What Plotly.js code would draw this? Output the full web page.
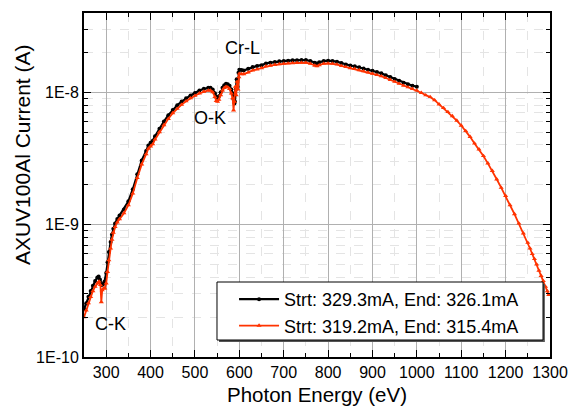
<!DOCTYPE html>
<html>
<head>
<meta charset="utf-8">
<script src="https://cdn.plot.ly/plotly-3.0.1.min.js"></script>
<style>html,body{margin:0;padding:0;background:#fff;}#chart{width:572px;height:408px;}</style>
</head>
<body>
<div id="chart"></div>
<script>
// Series 1 (black): Strt 329.3mA, End 326.1mA
var energyA = [250,255,260,265,270,275,280,283,286,288,290,293,296,300,303,306,310,313,316,320,325,330,340,350,360,370,380,390,395,400,405,410,420,430,440,450,460,470,480,490,500,510,520,530,535,540,545,548,551,554,558,562,566,570,574,578,582,585,587,589,590,592,594,596,598,600,605,610,620,630,640,650,660,670,680,690,700,710,720,730,740,750,760,770,775,780,790,800,810,820,830,840,850,860,870,880,890,900,910,920,930,940,950,960,970,980,990,1000];
var currentA = [2.3e-10,2.55e-10,2.85e-10,3.15e-10,3.45e-10,3.75e-10,3.98e-10,4.05e-10,3.85e-10,3.6e-10,3.5e-10,3.55e-10,3.7e-10,4.3e-10,5.2e-10,6.2e-10,7.4e-10,8.4e-10,9.3e-10,1.02e-9,1.1e-9,1.17e-9,1.3e-9,1.5e-9,1.85e-9,2.4e-9,3.05e-9,3.6e-9,3.95e-9,4.15e-9,4.3e-9,4.65e-9,5.3e-9,6.0e-9,6.7e-9,7.35e-9,7.95e-9,8.5e-9,9.0e-9,9.45e-9,9.85e-9,1.03e-8,1.06e-8,1.08e-8,1.08e-8,1.05e-8,9.8e-9,9.2e-9,9.0e-9,9.3e-9,1.0e-8,1.08e-8,1.13e-8,1.16e-8,1.15e-8,1.12e-8,1.05e-8,9.8e-9,8.8e-9,8.2e-9,8.5e-9,1.05e-8,1.25e-8,1.1e-8,1.4e-8,1.48e-8,1.47e-8,1.46e-8,1.5e-8,1.55e-8,1.58e-8,1.6e-8,1.65e-8,1.67e-8,1.69e-8,1.71e-8,1.72e-8,1.73e-8,1.74e-8,1.745e-8,1.75e-8,1.75e-8,1.72e-8,1.67e-8,1.65e-8,1.68e-8,1.72e-8,1.73e-8,1.72e-8,1.7e-8,1.66e-8,1.62e-8,1.59e-8,1.57e-8,1.54e-8,1.51e-8,1.48e-8,1.45e-8,1.42e-8,1.39e-8,1.34e-8,1.3e-8,1.26e-8,1.22e-8,1.18e-8,1.15e-8,1.12e-8,1.1e-8];

// Series 2 (red): Strt 319.2mA, End 315.4mA
var energyB = [250,255,260,265,270,275,280,284,287,289,291,294,297,300,303,306,310,313,316,320,325,330,340,350,360,370,380,390,395,400,405,410,420,430,440,450,460,470,480,490,500,510,520,530,535,540,545,548,551,554,558,562,566,570,574,578,582,585,587,589,591,593,595,597,599,600,605,610,620,630,640,650,660,670,680,690,700,710,720,730,740,750,760,770,775,780,790,800,810,820,830,840,850,860,870,880,890,900,910,920,930,940,950,960,970,980,990,1000,1010,1020,1030,1040,1050,1060,1070,1080,1090,1100,1110,1120,1130,1140,1150,1160,1170,1180,1190,1200,1210,1220,1230,1240,1250,1255,1260,1265,1270,1275,1280,1285,1290,1294,1297];
var currentB = [2.0e-10,2.25e-10,2.55e-10,2.85e-10,3.15e-10,3.4e-10,3.6e-10,3.72e-10,3.5e-10,2.6e-10,3.2e-10,3.3e-10,3.3e-10,3.6e-10,4.4e-10,5.4e-10,6.6e-10,7.7e-10,8.7e-10,9.6e-10,1.04e-9,1.1e-9,1.22e-9,1.4e-9,1.72e-9,2.25e-9,2.85e-9,3.4e-9,3.75e-9,3.9e-9,4.05e-9,4.4e-9,5.0e-9,5.65e-9,6.3e-9,6.95e-9,7.5e-9,8.05e-9,8.55e-9,9.0e-9,9.4e-9,9.8e-9,1.01e-8,1.03e-8,1.03e-8,1.0e-8,9.2e-9,8.6e-9,8.5e-9,8.8e-9,9.5e-9,1.03e-8,1.08e-8,1.1e-8,1.09e-8,1.06e-8,9.8e-9,9.0e-9,7.3e-9,8.5e-9,1.1e-8,9.5e-9,1.2e-8,1.05e-8,1.3e-8,1.38e-8,1.37e-8,1.37e-8,1.41e-8,1.46e-8,1.49e-8,1.52e-8,1.57e-8,1.59e-8,1.61e-8,1.63e-8,1.64e-8,1.65e-8,1.66e-8,1.665e-8,1.67e-8,1.67e-8,1.64e-8,1.59e-8,1.57e-8,1.6e-8,1.64e-8,1.65e-8,1.64e-8,1.62e-8,1.58e-8,1.55e-8,1.52e-8,1.5e-8,1.47e-8,1.44e-8,1.41e-8,1.38e-8,1.35e-8,1.32e-8,1.28e-8,1.24e-8,1.2e-8,1.16e-8,1.12e-8,1.09e-8,1.06e-8,1.03e-8,9.9e-9,9.5e-9,9.2e-9,8.7e-9,8.1e-9,7.6e-9,7.1e-9,6.6e-9,6.1e-9,5.6e-9,5.1e-9,4.6e-9,4.1e-9,3.7e-9,3.3e-9,2.9e-9,2.55e-9,2.2e-9,1.9e-9,1.65e-9,1.4e-9,1.2e-9,1.02e-9,8.6e-10,7.3e-10,6.6e-10,6.0e-10,5.5e-10,5.0e-10,4.5e-10,4.1e-10,3.75e-10,3.4e-10,3.15e-10,2.95e-10];

var seriesNames = ['Strt: 329.3mA, End: 326.1mA', 'Strt: 319.2mA, End: 315.4mA'];
var xTickVals = [300,400,500,600,700,800,900,1000,1100,1200,1300];
var yTickVals = [1e-10, 1e-9, 1e-8];
var yTickText = ['1E-10', '1E-9', '1E-8'];
var yMinorVals = [2e-10,3e-10,4e-10,5e-10,6e-10,7e-10,8e-10,9e-10,2e-9,3e-9,4e-9,5e-9,6e-9,7e-9,8e-9,9e-9,2e-8,3e-8];
var labels = ['C-K', 'O-K', 'Cr-L'];
var labelX = [309, 534, 608];
var labelY = [1.79e-10, 6.4e-9, 2.15e-8];
var xTitle = 'Photon Energy (eV)';
var yTitle = 'AXUV100Al Current (A)';

var F = 'Arial, "Liberation Sans", sans-serif';

var traces = [
  {x: energyA, y: currentA, name: seriesNames[0], type: 'scatter', mode: 'lines+markers',
   line: {color: '#000000', width: 2.2}, marker: {color: '#000000', size: 4, symbol: 'circle'}},
  {x: energyB, y: currentB, name: seriesNames[1], type: 'scatter', mode: 'lines+markers',
   line: {color: '#ff3300', width: 1.8}, marker: {color: '#ff3300', size: 4.5, symbol: 'triangle-up'}}
];

var annos = labels.map(function (t, i) {
  return {x: labelX[i], y: Math.log10(labelY[i]), xref: 'x', yref: 'y', text: t, showarrow: false,
          font: {size: 18, family: F, color: '#000'}};
});
annos.push({x: -0.133, y: 0.587, xref: 'paper', yref: 'paper', xanchor: 'center', yanchor: 'middle',
            text: yTitle, textangle: -90, showarrow: false, font: {size: 21, family: F, color: '#000'}});

var layout = {
  width: 572, height: 408,
  margin: {l: 84, r: 22, t: 13, b: 51},
  paper_bgcolor: '#ffffff', plot_bgcolor: '#ffffff',
  font: {family: F, color: '#000', size: 16},
  showlegend: true,
  legend: {x: 0.322, y: 0.221, xanchor: 'left', yanchor: 'top', bgcolor: 'rgba(0,0,0,0)',
           borderwidth: 0, font: {size: 18, family: F}, itemwidth: 40, tracegroupgap: 0},
  xaxis: {
    range: [250, 1300], tickmode: 'array', tickvals: xTickVals,
    ticks: 'inside', ticklen: 7, tickwidth: 1, tickcolor: '#000',
    showline: true, linecolor: '#000', linewidth: 2, mirror: 'allticks',
    showgrid: true, gridcolor: '#b0b0b0', gridwidth: 1, zeroline: false,
    tickfont: {size: 16, family: F},
    minor: {dtick: 50, tick0: 250, ticks: 'inside', ticklen: 4, tickcolor: '#000', showgrid: true, gridcolor: '#e4e4e4', griddash: 'dash'},
    title: {text: xTitle, font: {size: 20.5, family: F}, standoff: 7}
  },
  yaxis: {
    type: 'log', range: [-10, -7.402], tickmode: 'array', tickvals: yTickVals, ticktext: yTickText,
    ticks: 'inside', ticklen: 7, tickwidth: 1, tickcolor: '#000',
    showline: true, linecolor: '#000', linewidth: 2, mirror: 'allticks',
    showgrid: true, gridcolor: '#b0b0b0', gridwidth: 1, zeroline: false,
    tickfont: {size: 16, family: F},
    minor: {tickmode: 'array', tickvals: yMinorVals, ticks: 'inside', ticklen: 4, tickcolor: '#000', showgrid: true, gridcolor: '#e4e4e4', griddash: 'dash'}
  },
  shapes: [
    {type: 'rect', xref: 'paper', yref: 'paper', x0: 0.2897, x1: 0.989, y0: 0.0436, y1: 0.212,
     fillcolor: '#555555', line: {width: 0}, layer: 'above'},
    {type: 'rect', xref: 'paper', yref: 'paper', x0: 0.2854, x1: 0.985, y0: 0.0494, y1: 0.218,
     fillcolor: '#ffffff', line: {color: '#000', width: 1}, layer: 'above'}
  ],
  annotations: annos
};

Plotly.newPlot('chart', traces, layout, {displayModeBar: false, staticPlot: true});
</script>
</body>
</html>
